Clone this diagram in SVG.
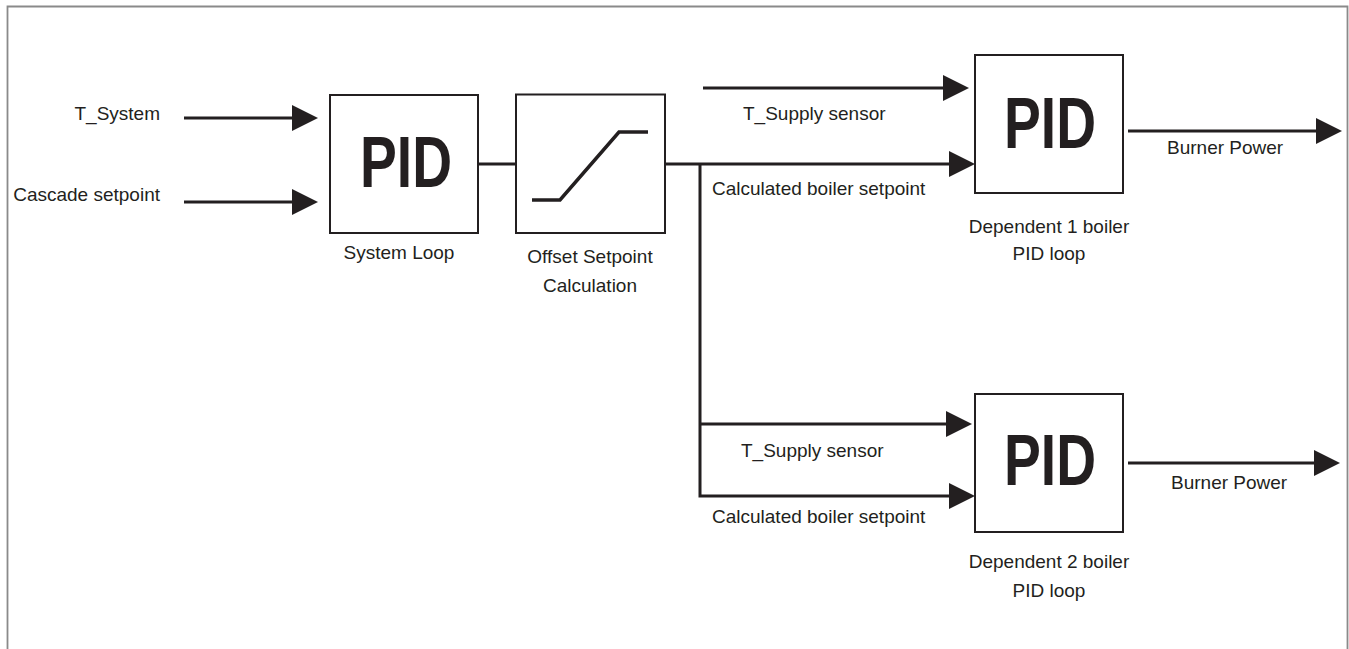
<svg xmlns="http://www.w3.org/2000/svg" width="1349" height="649" viewBox="0 0 1349 649">
<style>
.box{fill:#fff;stroke:#231f20;stroke-width:2}
.lbl{font-family:"Liberation Sans",Arial,sans-serif;font-size:19px;fill:#231f20}
.mid{text-anchor:middle}
.end{text-anchor:end}
.pid{font-family:"Liberation Sans",Arial,sans-serif;font-weight:bold;font-size:72px;fill:#231f20;text-anchor:middle}
.wire{fill:none;stroke:#231f20;stroke-width:3}
.arr{marker-end:url(#ah)}
</style>
<defs>
<marker id="ah" markerUnits="userSpaceOnUse" markerWidth="26" markerHeight="26" viewBox="0 0 26 26" refX="2" refY="13" orient="auto">
<path d="M0,0 L26,13 L0,26 Z" fill="#231f20"/>
</marker>
</defs>
<rect width="1349" height="649" fill="#fff"/>
<path d="M7.5,649 V6.5 H1347.5 V649" fill="none" stroke="#8a8a8a" stroke-width="1.8"/>

<g id="connectors">
<path class="wire arr" d="M184,118 H294"/>
<path class="wire arr" d="M184,202 H294"/>
<path class="wire" d="M478,164 H516"/>
<path class="wire arr" d="M665,164 H951"/>
<path class="wire arr" d="M700,164 V496 H951"/>
<path class="wire arr" d="M703,88 H945"/>
<path class="wire arr" d="M700,424 H948"/>
<path class="wire arr" d="M1128,131 H1318"/>
<path class="wire arr" d="M1128,463 H1316"/>
</g>

<g id="inputs">
<text class="lbl end" x="160" y="120">T_System</text>
<text class="lbl end" x="160" y="201">Cascade setpoint</text>
</g>

<g id="system-loop">
<rect class="box" x="330" y="95" width="148" height="138"/>
<text class="pid" x="406" y="187" textLength="92" lengthAdjust="spacingAndGlyphs">PID</text>
<text class="lbl mid" x="399" y="259">System Loop</text>
</g>

<g id="offset-setpoint">
<rect class="box" x="516" y="94.5" width="149" height="138.5"/>
<path d="M532,200 H560 L619,132 H648" fill="none" stroke="#231f20" stroke-width="3.5"/>
<text class="lbl mid" x="590" y="263">Offset Setpoint</text>
<text class="lbl mid" x="590" y="292">Calculation</text>
</g>

<g id="labels-top">
<text class="lbl" x="743" y="120">T_Supply sensor</text>
<text class="lbl" x="712" y="195">Calculated boiler setpoint</text>
<text class="lbl" x="1167" y="154">Burner Power</text>
</g>

<g id="dependent-1">
<rect class="box" x="975" y="55" width="148" height="138"/>
<text class="pid" x="1050" y="148" textLength="92" lengthAdjust="spacingAndGlyphs">PID</text>
<text class="lbl mid" x="1049" y="233">Dependent 1 boiler</text>
<text class="lbl mid" x="1049" y="260">PID loop</text>
</g>

<g id="labels-bottom">
<text class="lbl" x="741" y="457">T_Supply sensor</text>
<text class="lbl" x="712" y="523">Calculated boiler setpoint</text>
<text class="lbl" x="1171" y="489">Burner Power</text>
</g>

<g id="dependent-2">
<rect class="box" x="975" y="394" width="148" height="138"/>
<text class="pid" x="1050" y="485" textLength="92" lengthAdjust="spacingAndGlyphs">PID</text>
<text class="lbl mid" x="1049" y="568">Dependent 2 boiler</text>
<text class="lbl mid" x="1049" y="597">PID loop</text>
</g>
</svg>
